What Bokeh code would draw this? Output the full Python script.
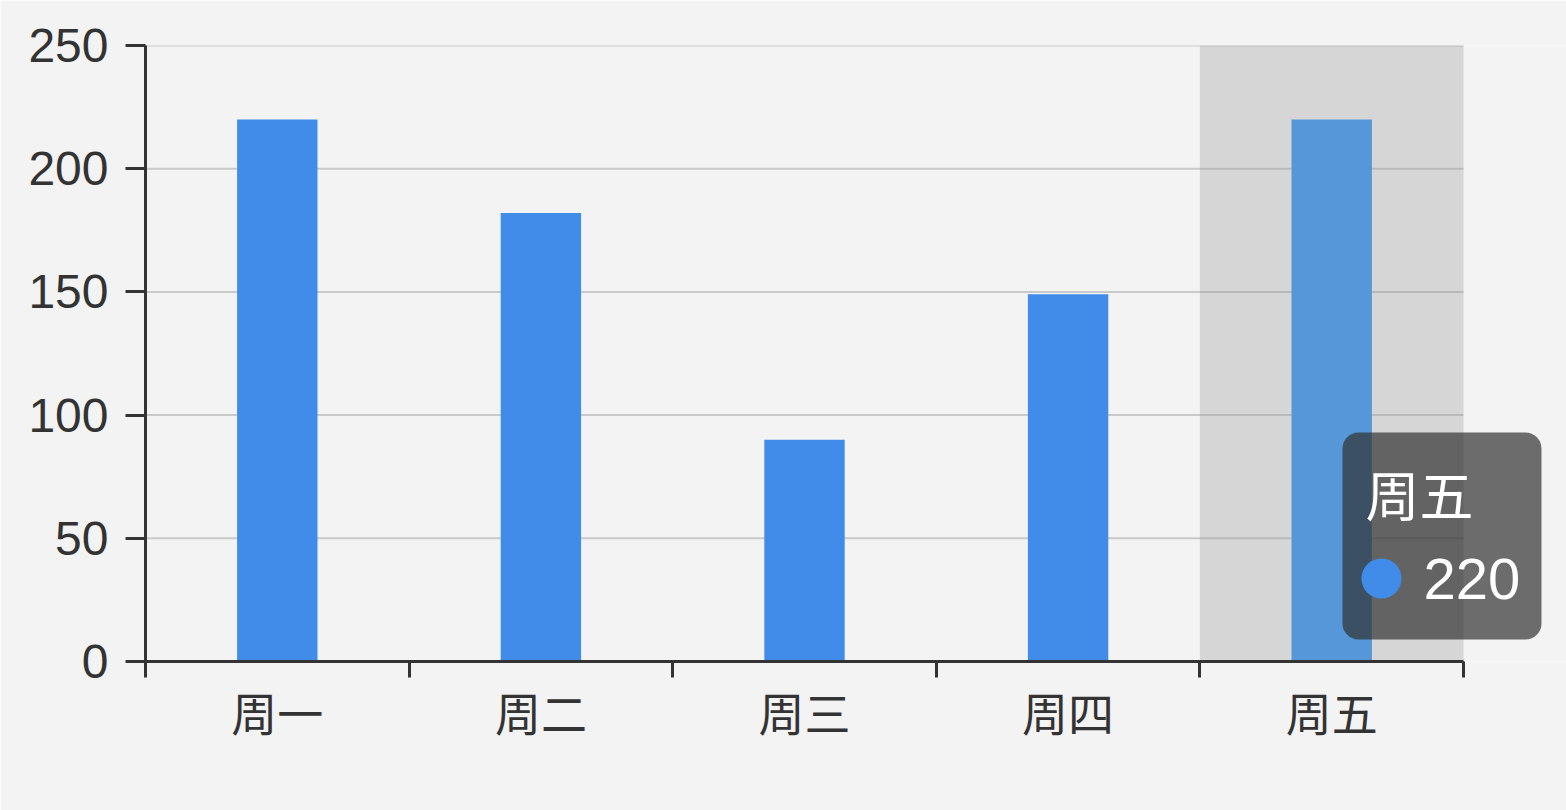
from bokeh.plotting import figure
from bokeh.models import Range1d, FixedTicker, BoxAnnotation, Label
from bokeh.embed import file_html
from bokeh.resources import INLINE

categories = ["周一", "周二", "周三", "周四", "周五"]
values = [220, 182, 90, 149, 220]
y_ticks = [0, 50, 100, 150, 200, 250]
hovered = "周五"

BG = "#f3f3f3"
BAR = "#418ce8"
BAR_HI = "#5597d9"
AXIS = "#333333"
GRID = "#c9c9c9"
CJK = "Noto Sans CJK SC"
DIGITS = "Liberation Sans"

W, H = 1566, 810
LEFT, TOP, BOTTOM = 145, 45, 149
AXIS_RIGHT = 1463  # pixel where the category axis ends

n = len(categories)
xs = [i + 0.5 for i in range(n)]
colors = [BAR_HI if c == hovered else BAR for c in categories]
hi = categories.index(hovered)

# frame reaches the right edge so the tooltip is not clipped; axis is bounded to [0, n]
x_end = n * (W - LEFT) / (AXIS_RIGHT - LEFT)

p = figure(width=W, height=H, output_backend="svg", toolbar_location=None,
           x_range=Range1d(0, x_end), y_range=Range1d(0, y_ticks[-1]),
           min_border_left=LEFT, min_border_right=0, min_border_top=TOP,
           min_border_bottom=BOTTOM)
p.background_fill_color = BG
p.border_fill_color = BG
p.outline_line_color = None
p.xgrid.visible = False
p.ygrid.visible = False

# grid lines limited to the category span
p.segment(x0=[0] * len(y_ticks), x1=[n] * len(y_ticks), y0=y_ticks, y1=y_ticks,
          line_color=GRID, line_width=2)

# axis pointer shadow
p.vbar(x=[xs[hi]], top=[y_ticks[-1]], bottom=[0], width=1.0,
       fill_color="#969696", fill_alpha=0.3, line_color=None)
p.vbar(x=xs, top=values, bottom=0, width=0.305, fill_color=colors, line_color=None)

xa = p.xaxis[0]
xa.bounds = (0, n)
xa.ticker = FixedTicker(ticks=xs, minor_ticks=list(range(n + 1)))
xa.major_label_overrides = {x: c for x, c in zip(xs, categories)}
xa.major_tick_out = 0
xa.major_tick_in = 0
xa.minor_tick_out = 16
xa.minor_tick_in = 0
xa.minor_tick_line_color = AXIS
xa.minor_tick_line_width = 3
xa.axis_line_color = AXIS
xa.axis_line_width = 3
xa.major_label_text_font = CJK
xa.major_label_text_font_size = "46px"
xa.major_label_text_color = AXIS
xa.major_label_standoff = 0

ya = p.yaxis[0]
ya.ticker = FixedTicker(ticks=y_ticks)
ya.major_tick_out = 20
ya.major_tick_in = 0
ya.minor_tick_line_color = None
ya.major_tick_line_color = AXIS
ya.major_tick_line_width = 3
ya.axis_line_color = AXIS
ya.axis_line_width = 3
ya.major_label_text_font = DIGITS
ya.major_label_text_font_size = "48px"
ya.major_label_text_color = AXIS
ya.major_label_standoff = 17

# tooltip (screen units are relative to the frame's bottom-left corner)
tip = BoxAnnotation(left=1197, right=1396, bottom=22, top=229,
                    left_units="screen", right_units="screen",
                    bottom_units="screen", top_units="screen",
                    fill_color="#323232", fill_alpha=0.7, line_color=None,
                    border_radius=16)
p.add_layout(tip)
dot = BoxAnnotation(left=1216, right=1256, bottom=63, top=103,
                    left_units="screen", right_units="screen",
                    bottom_units="screen", top_units="screen",
                    fill_color=BAR, fill_alpha=1.0, line_color=None,
                    border_radius=20)
p.add_layout(dot)
p.add_layout(Label(x=1220, y=168, x_units="screen", y_units="screen",
                   text=categories[hi], text_color="white", text_font=CJK,
                   text_font_size="54px", text_baseline="middle", text_align="left"))
p.add_layout(Label(x=1278, y=83, x_units="screen", y_units="screen",
                   text=str(values[hi]), text_color="white", text_font=DIGITS,
                   text_font_size="58px", text_baseline="middle", text_align="left"))

open("out.html", "w").write(file_html(p, INLINE))
